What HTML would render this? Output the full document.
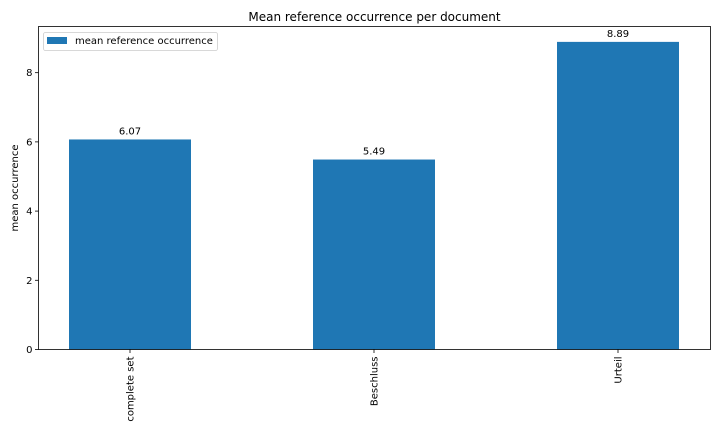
<!DOCTYPE html>
<html><head><meta charset="utf-8"><style>
body{margin:0;background:#fff;width:720px;height:432px;overflow:hidden}
text{font-family:"DejaVu Sans","Liberation Sans",sans-serif;fill:#000}
</style></head><body>
<svg id="chart" width="720" height="432" viewBox="0 0 720 432"></svg>
<script>
const categories = ["complete set", "Beschluss", "Urteil"];
const values = [6.07, 5.49, 8.89];
const labels = ["6.07", "5.49", "8.89"];
const yTicks = [0, 2, 4, 6, 8];

const NS = "http://www.w3.org/2000/svg";
const svg = document.getElementById("chart");
const L = 38.5, R = 710.5, T = 26.5, B = 349.5;
const yMax = Math.max(...values) * 1.05;
const spacing = 244, xOff = 130 - L;
function x(i){ return L + xOff + i * spacing; }
function y(v){ return B - v / yMax * (B - T); }
function mk(tag, attrs, text){
  const e = document.createElementNS(NS, tag);
  for (const k in attrs) e.setAttribute(k, attrs[k]);
  if (text !== undefined) e.textContent = text;
  svg.appendChild(e);
  return e;
}
const barW = spacing * 0.5;
values.forEach((v, i) => {
  const r = mk("rect", {x: x(i) - barW/2, y: y(v), width: barW, height: B - y(v), fill: "#1f77b4"});
  
  
  const t = mk("text", {x: x(i), y: y(v) - 5, "text-anchor": "middle", "font-size": "10"}, labels[i]);
  
  
  mk("line", {x1: x(i), x2: x(i), y1: B, y2: B + 3.5, stroke: "#000", "stroke-width": 0.8});
  const xl = mk("text", {transform: `translate(${x(i)+3.5},${B+7}) rotate(-90)`, "text-anchor": "end", "font-size": "10"}, categories[i]);
  
  
});
yTicks.forEach(v => {
  mk("line", {x1: L - 3.5, x2: L, y1: y(v), y2: y(v), stroke: "#000", "stroke-width": 0.8});
  const t = mk("text", {x: L - 6, y: y(v) + 3.5, "text-anchor": "end", "font-size": "10"}, String(v));
  
  
});
const frame = mk("rect", {x: L, y: T, width: R - L, height: B - T, fill: "none", stroke: "#000", "stroke-width": 0.8});


const title = mk("text", {x: (L+R)/2, y: 21, "text-anchor": "middle", "font-size": "12"}, "Mean reference occurrence per document");


const yt = mk("text", {transform: `translate(18,${(T+B)/2}) rotate(-90)`, "text-anchor": "middle", "font-size": "10"}, "mean occurrence");


const lg = mk("rect", {x: 43.5, y: 32.5, width: 174, height: 18, fill: "#fff", stroke: "#ccc", "stroke-width": 0.8, rx: 2});


mk("rect", {x: 47, y: 37, width: 20, height: 7, fill: "#1f77b4"});
const lt = mk("text", {x: 75, y: 44, "font-size": "10"}, "mean reference occurrence");


</script>
</body></html>
